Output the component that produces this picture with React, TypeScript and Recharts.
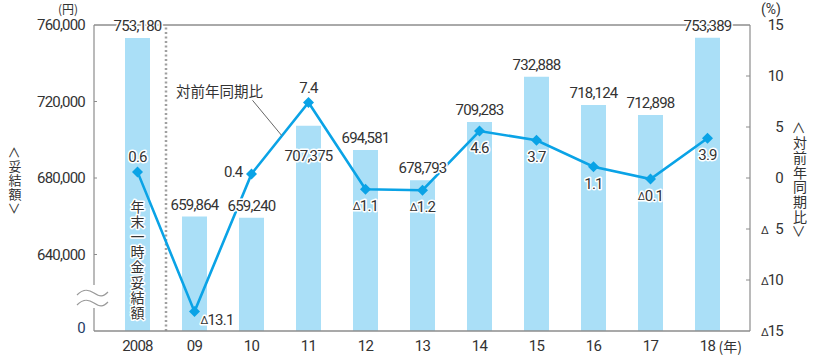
import React from 'react';
import {
  ComposedChart, Bar, Line, XAxis, YAxis, LabelList, ReferenceLine, ReferenceDot, Customized,
} from 'recharts';

const years = ['2008', '09', '10', '11', '12', '13', '14', '15', '16', '17', '18'];
const amounts = [753180, 659864, 659240, 707375, 694581, 678793, 709283, 732888, 718124, 712898, 753389];
const yoy = [0.6, -13.1, 0.4, 7.4, -1.1, -1.2, 4.6, 3.7, 1.1, -0.1, 3.9];
const leftTicks = [600000, 640000, 680000, 720000, 760000];
const rightTicks = [-15, -10, -5, 0, 5, 10, 15];
const barNote = '年末一時金妥結額';
const lineNote = '対前年同期比';
const leftTitle = '＜妥結額＞';
const rightTitle = '＜対前年同期比＞';

const data = years.map((y, i) => ({ year: y, amount: amounts[i], yoy: yoy[i] }));

const NUM = 'Roboto, "Liberation Sans", sans-serif';
const CJK = '"Noto Sans CJK JP", sans-serif';
const TXT = '#333';
const BAR = '#aadff7';
const LINE = '#0aa3e6';
const AXIS = '#8c8c8c';

const halo = { stroke: '#fff', strokeWidth: 3, paintOrder: 'stroke' as const, strokeLinejoin: 'round' as const };
const vertical = { writingMode: 'vertical-rl' as const };

const fmt = (v: number) => v.toLocaleString('en-US');

const LeftTick = (p: any) => {
  const { x, y, payload } = p;
  const v = payload.value;
  const isZero = v === leftTicks[0];
  return (
    <g>
      {!isZero && v !== leftTicks[leftTicks.length - 1] && (
        <line x1={x} x2={x + 3} y1={y} y2={y} stroke={AXIS} strokeWidth={1} />
      )}
      {isZero && (
        <g>
          <rect x={x - 4} y={y - 46} width={8} height={23} fill="#fff" />
          <path d={`M${x - 17},${y - 36} C${x - 11},${y - 42} ${x - 6},${y - 42} ${x},${y - 38} S${x + 9},${y - 34} ${x + 14},${y - 39}`} stroke="#9a9a9a" strokeWidth={1.2} fill="none" />
          <path d={`M${x - 17},${y - 26} C${x - 11},${y - 32} ${x - 6},${y - 32} ${x},${y - 28} S${x + 9},${y - 24} ${x + 14},${y - 29}`} stroke="#9a9a9a" strokeWidth={1.2} fill="none" />
        </g>
      )}
      <text x={x - 9} y={isZero ? y - 3 : y} textAnchor="end" dominantBaseline="central"
        fontFamily={NUM} fontSize={15} letterSpacing={-0.8} fill={isZero ? '#1f3b66' : TXT}>
        {isZero ? '0' : fmt(v)}
      </text>
    </g>
  );
};

const RightTick = (p: any) => {
  const { x, y, payload } = p;
  const v = payload.value;
  const neg = v < 0;
  return (
    <g>
      {v !== rightTicks[0] && v !== rightTicks[rightTicks.length - 1] && (
        <line x1={x - 4} x2={x} y1={y} y2={y} stroke={AXIS} strokeWidth={1} />
      )}
      {neg && (
        <text x={x + 11} y={y + 1} dominantBaseline="central" fontFamily={NUM} fontSize={11} fill={TXT}>Δ</text>
      )}
      <text x={x + 33} y={y} textAnchor="end" dominantBaseline="central" fontFamily={NUM} fontSize={15} letterSpacing={-0.8} fill={TXT}>
        {Math.abs(v)}
      </text>
    </g>
  );
};

const XTick = (p: any) => {
  const { x, y, payload } = p;
  const last = payload.value === years[years.length - 1];
  return (
    <g>
      <text x={x} y={y + 15} textAnchor="middle" dominantBaseline="central" fontFamily={NUM} fontSize={15} letterSpacing={-0.8} fill={TXT}>
        {payload.value}
      </text>
      {last && (
        <text x={x + 11} y={y + 15} dominantBaseline="central" fontFamily={CJK} fontSize={14} fill={TXT}>(年)</text>
      )}
    </g>
  );
};

const BarLabel = (p: any) => {
  const vb = p.viewBox || {};
  const x = Number(p.x ?? vb.x);
  const y = Number(p.y ?? vb.y);
  const w = Number(p.width ?? vb.width);
  const h = Number(p.height ?? vb.height);
  const idx = p.index;
  const cx = x + w / 2;
  const inside = idx === 3;
  return (
    <g>
      <text x={cx} y={inside ? y + 30 : y - 12} textAnchor="middle" dominantBaseline="central"
        fontFamily={NUM} fontSize={15} letterSpacing={-0.8} fill={TXT} {...halo}>
        {fmt(p.value)}
      </text>
      {idx === 0 && (
        <text x={cx} y={y + h - 71} textAnchor="middle" dominantBaseline="central" style={vertical}
          fontFamily={CJK} fontSize={14} letterSpacing={1.2} fill={TXT} {...halo}>
          {barNote}
        </text>
      )}
    </g>
  );
};

const LineLabel = (p: any) => {
  const x = Number(p.x);
  const y = Number(p.y);
  const v = Number(p.value);
  const idx = p.index;
  let tx = x, ty = y + 17, anchor: 'middle' | 'start' | 'end' = 'middle';
  if (idx === 0 || idx === 3) { ty = y - 15; }
  else if (idx === 1) { tx = x + 6; ty = y + 8; anchor = 'start'; }
  else if (idx === 2) { tx = x - 9; ty = y - 2; anchor = 'end'; }
  return (
    <text x={tx} y={ty} textAnchor={anchor} dominantBaseline="central" fontFamily={NUM} fontSize={15} letterSpacing={-0.8} fill={TXT} {...halo}>
      {v < 0 && <tspan fontSize={11}>Δ</tspan>}
      <tspan>{Math.abs(v).toFixed(1)}</tspan>
    </text>
  );
};

const Diamond = (p: any) => {
  const { cx, cy } = p;
  if (cx == null || cy == null) return null;
  const r = 5.5;
  return <polygon points={`${cx},${cy - r} ${cx + r},${cy} ${cx},${cy + r} ${cx - r},${cy}`} fill={LINE} />;
};

const NoteShape = (p: any) => {
  const { cx, cy } = p;
  if (cx == null || cy == null) return null;
  return (
    <g>
      <line x1={cx + 1} y1={cy + 9} x2={cx + 30} y2={cy + 44} stroke="#666" strokeWidth={1} />
      <text x={cx - 32} y={cy - 1} textAnchor="middle" dominantBaseline="central" fontFamily={CJK} fontSize={14.5} fill={TXT} {...halo}>
        {lineNote}
      </text>
    </g>
  );
};

const Decor = () => (
  <g>
    <text x={68} y={8.5} textAnchor="middle" dominantBaseline="central" fontFamily={CJK} fontSize={12} fill={TXT}>(円)</text>
    <text x={771} y={9} textAnchor="middle" dominantBaseline="central" fontFamily={NUM} fontSize={14} fill={TXT}>(%)</text>
    <text x={15} y={181} textAnchor="middle" dominantBaseline="central" style={vertical}
      fontFamily={CJK} fontSize={13} letterSpacing={1} fill={TXT}>{leftTitle}</text>
    <text x={800} y={180} textAnchor="middle" dominantBaseline="central" style={vertical}
      fontFamily={CJK} fontSize={14} letterSpacing={0.8} fill={TXT}>{rightTitle}</text>
  </g>
);

export default function App() {
  return (
    <div style={{ position: 'absolute', left: 0, top: 0, width: 823, height: 357, background: '#fff' }}>
      <ComposedChart width={823} height={357} data={data} margin={{ top: 25, right: 0, bottom: 0, left: 0 }}>
        <XAxis dataKey="year" height={26} padding={{ left: 15, right: 14 }} tickLine={false} tickSize={0} tickMargin={0}
          axisLine={{ stroke: AXIS, strokeWidth: 1.5 }} tick={<XTick />} interval={0} />
        <YAxis yAxisId="left" orientation="left" width={94} domain={[600000, 760000]} ticks={leftTicks} allowDataOverflow
          tickLine={false} tickSize={0} tickMargin={0} axisLine={{ stroke: AXIS, strokeWidth: 1.2 }} tick={<LeftTick />} interval={0} />
        <YAxis yAxisId="right" orientation="right" width={73} domain={[-15, 15]} ticks={rightTicks} allowDataOverflow
          tickLine={false} tickSize={0} tickMargin={0} axisLine={{ stroke: AXIS, strokeWidth: 1.2 }} tick={<RightTick />} interval={0} />
        <ReferenceLine yAxisId="left" y={760000} stroke="#555" strokeWidth={1} />
        <Bar yAxisId="left" dataKey="amount" fill={BAR} barSize={25} isAnimationActive={false}>
          <LabelList dataKey="amount" content={BarLabel} />
        </Bar>
        <ReferenceLine yAxisId="left" x={years[0]} position="end" stroke="#a0a0a0" strokeWidth={2.5} strokeDasharray="2 2.5" />
        <ReferenceDot yAxisId="right" x={years[2]} y={8.5} r={0} shape={NoteShape} ifOverflow="visible" />
        <Line yAxisId="right" dataKey="yoy" stroke={LINE} strokeWidth={2.6} dot={<Diamond />} activeDot={false} isAnimationActive={false}>
          <LabelList dataKey="yoy" content={LineLabel} />
        </Line>
        <Customized component={Decor} />
      </ComposedChart>
    </div>
  );
}
